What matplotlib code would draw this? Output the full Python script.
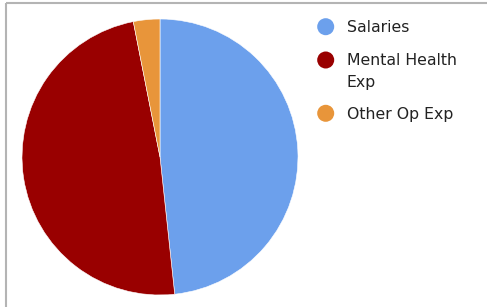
import matplotlib.pyplot as plt

labels = ["Salaries", "Mental Health\nExp", "Other Op Exp"]
shares = [48.3, 48.6, 3.1]
colors = ["#6ca0ec", "#990000", "#e8953a"]

W, H = 487, 307
fig = plt.figure(figsize=(W / 100, H / 100), dpi=100)

# overlay in pixel coords for border and legend
ov = fig.add_axes([0, 0, 1, 1])
ov.set_xlim(0, W)
ov.set_ylim(H, 0)
ov.axis("off")
ov.plot([6, W], [3, 3], color="#b4b4b4", lw=1.5, solid_capstyle="butt")
ov.plot([6, 6], [3, H], color="#b4b4b4", lw=1.5, solid_capstyle="butt")

# pie
cx, cy, r = 160, 157, 138
ax = fig.add_axes([(cx - r) / W, (H - cy - r) / H, 2 * r / W, 2 * r / H])
ax.pie(shares, colors=colors, startangle=90, counterclock=False,
       wedgeprops=dict(edgecolor="white", linewidth=0.4))
ax.set_xlim(-1, 1)
ax.set_ylim(-1, 1)
ax.set_aspect("auto")

# legend, one text per line so the marker sits on the first line
marker_y = [26.7, 60, 113.3]
text_y = [32.3, 65, 119]
line_gap = 22.3
for lab, col, my, ty in zip(labels, colors, marker_y, text_y):
    ov.scatter([325.7], [my], s=150, color=col, edgecolors="none")
    for k, part in enumerate(lab.split("\n")):
        ov.text(347, ty + k * line_gap, part, fontsize=11.3, color="#222222",
                va="baseline", ha="left")

fig.savefig("out.png", dpi=100)
